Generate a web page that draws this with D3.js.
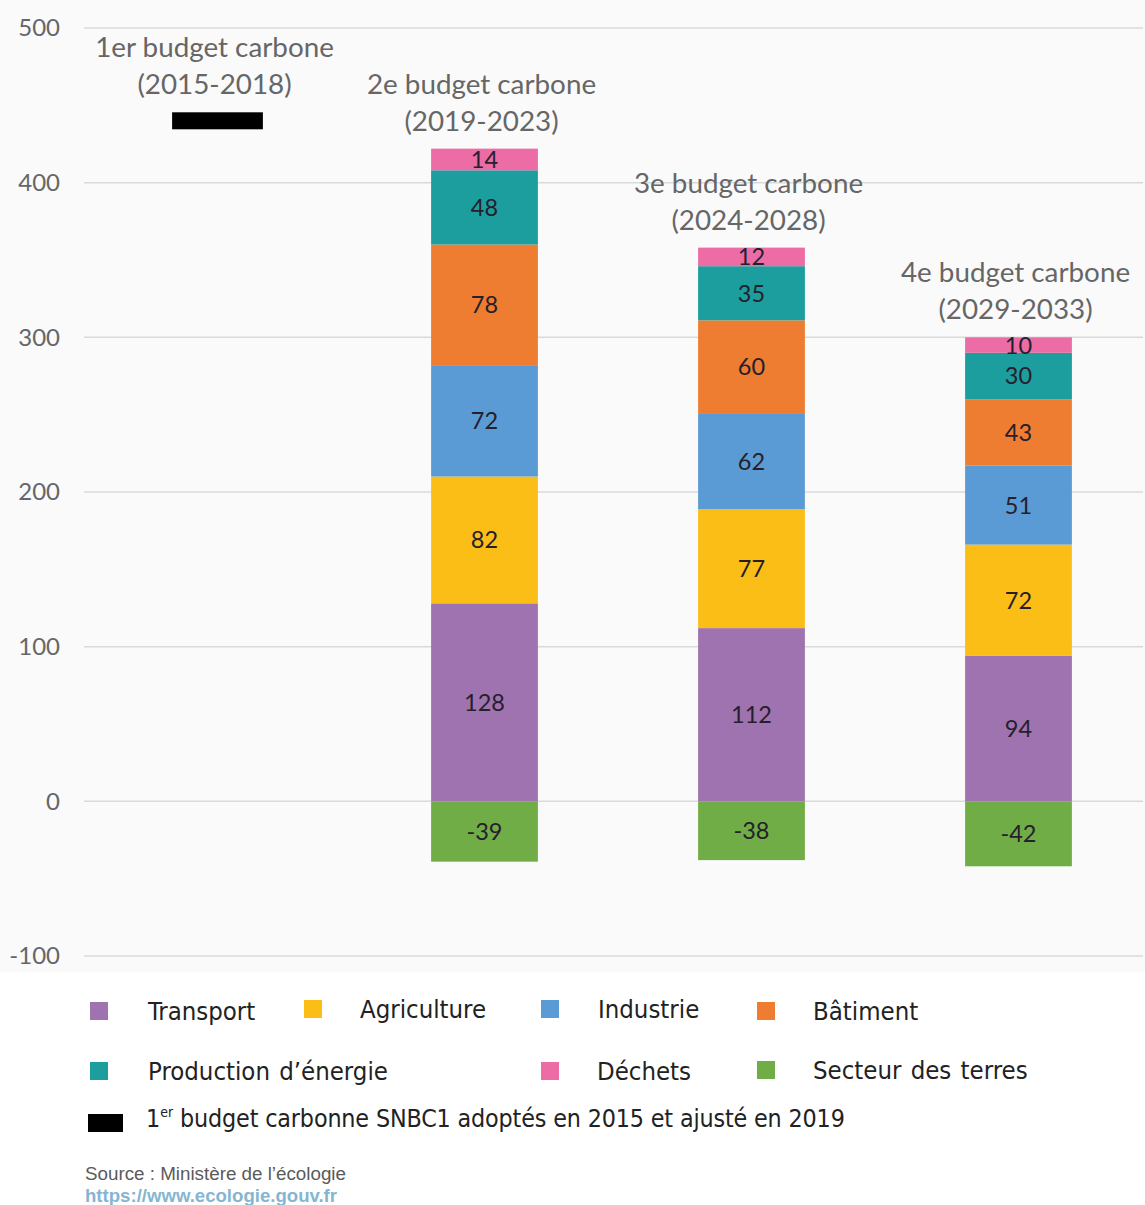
<!DOCTYPE html>
<html>
<head>
<meta charset="utf-8">
<script src="https://cdn.jsdelivr.net/npm/d3@7"></script>
<style>
  html, body { margin: 0; padding: 0; background: #ffffff; }
  svg { display: block; }
</style>
</head>
<body>
<svg id="chart" width="1145" height="1205"></svg>
<script>
// ---------- Data ----------
const categories = ["B1", "B2", "B3", "B4"];
const titleLine1 = ["1er budget carbone", "2e budget carbone", "3e budget carbone", "4e budget carbone"];
const titleLine2 = ["(2015-2018)", "(2019-2023)", "(2024-2028)", "(2029-2033)"];
const seriesNames = ["Transport", "Agriculture", "Industrie", "Bâtiment", "Production d’énergie", "Déchets", "Secteur des terres"];
const seriesColors = ["#9F72B0", "#FBBE17", "#5B9BD5", "#EE7D31", "#1C9E9F", "#EC6CA6", "#70AD47"];
const transport   = [0, 128, 112, 94];
const agriculture = [0, 82, 77, 72];
const industrie   = [0, 72, 62, 51];
const batiment    = [0, 78, 60, 43];
const energie     = [0, 48, 35, 30];
const dechets     = [0, 14, 12, 10];
const terres      = [0, -39, -38, -42];
const firstBudget = 440; // 1er budget carbone (marker)
const yTicks = [500, 400, 300, 200, 100, 0, -100];

const seriesValues = [transport, agriculture, industrie, batiment, energie, dechets, terres];
const rows = categories.map((c, i) => {
  const r = { cat: c };
  seriesNames.forEach((s, k) => r[s] = seriesValues[k][i]);
  return r;
});

// ---------- Layout ----------
const svg = d3.select("#chart");
const W = 1145, H = 1205;
const plotLeft = 84, plotRight = 1143;

svg.append("rect").attr("x", 0).attr("y", 0).attr("width", W).attr("height", 972).attr("fill", "#fafafa");

const y = d3.scaleLinear().domain([-100, 500]).range([956, 28]);
const x = d3.scaleBand().domain(categories).range([plotLeft, 1152]).paddingInner(0.6).paddingOuter(0.3);

// gridlines
svg.append("g").selectAll("line").data(yTicks).join("line")
  .attr("x1", plotLeft).attr("x2", plotRight)
  .attr("y1", d => y(d)).attr("y2", d => y(d))
  .attr("stroke", "#dadada").attr("stroke-width", 1.5);

// y axis labels
const yAxis = d3.axisLeft(y).tickValues(yTicks).tickSize(0).tickPadding(0)
  .tickFormat(d => String(d));
const ga = svg.append("g").attr("transform", "translate(60,0)").call(yAxis);
ga.select(".domain").remove();
ga.selectAll("text")
  .attr("font-family", "Lato, 'Open Sans', sans-serif")
  .attr("font-size", 24).attr("fill", "#666");

// stacks
const stack = d3.stack().keys(seriesNames).offset(d3.stackOffsetDiverging);
const stacked = stack(rows);
const color = d3.scaleOrdinal().domain(seriesNames).range(seriesColors);

const layers = svg.append("g").selectAll("g").data(stacked).join("g")
  .attr("fill", d => color(d.key));
layers.selectAll("rect").data(d => d.filter(p => p.data.cat !== "B1")).join("rect")
  .attr("x", d => x(d.data.cat))
  .attr("width", x.bandwidth())
  .attr("y", d => y(Math.max(d[0], d[1])))
  .attr("height", d => Math.abs(y(d[0]) - y(d[1])));

// labels in segments
const labG = svg.append("g");
stacked.forEach(layer => {
  layer.filter(p => p.data.cat !== "B1").forEach(p => {
    const v = p.data[layer.key];
    labG.append("text")
      .attr("x", x(p.data.cat) + x.bandwidth() / 2)
      .attr("y", y((p[0] + p[1]) / 2))
      .attr("dy", "0.36em")
      .attr("text-anchor", "middle")
      .attr("font-family", "Lato, 'Open Sans', sans-serif")
      .attr("font-size", 23.5)
      .attr("fill", "#25202c")
      .text(String(v));
  });
});

// first budget marker
const mW = x.bandwidth() * 0.85;
svg.append("rect")
  .attr("x", x("B1") + (x.bandwidth() - mW) / 2)
  .attr("width", mW)
  .attr("y", y(firstBudget) - 8.5)
  .attr("height", 17)
  .attr("fill", "#000");

// titles
const tops = categories.map((c, i) => i === 0 ? y(firstBudget) - 8.5 : y(d3.sum(seriesValues.slice(0, 6), s => s[i])));
categories.forEach((c, i) => {
  const cx = x(c) + x.bandwidth() / 2 - 3;
  const base = tops[i] - 18;
  const t = svg.append("text")
    .attr("text-anchor", "middle")
    .attr("font-family", "Lato, 'Open Sans', sans-serif")
    .attr("font-size", 27.8).attr("fill", "#666");
  t.append("tspan").attr("x", cx).attr("y", base - 37).text(titleLine1[i]);
  t.append("tspan").attr("x", cx).attr("y", base).text(titleLine2[i]);
});

// legend
const legendFont = "'DejaVu Sans Condensed', 'DejaVu Sans', sans-serif";
const legendItems = [
  { i: 0, sx: 90, tx: 148, y: 1020 },
  { i: 1, sx: 304, tx: 360, y: 1018 },
  { i: 2, sx: 541, tx: 598, y: 1018 },
  { i: 3, sx: 757, tx: 813, y: 1020 },
  { i: 4, sx: 90, tx: 148, y: 1080 },
  { i: 5, sx: 541, tx: 597, y: 1080 },
  { i: 6, sx: 757, tx: 813, y: 1079 }
];
const lg = svg.append("g");
legendItems.forEach(it => {
  lg.append("rect").attr("x", it.sx).attr("y", it.y - 18).attr("width", 18).attr("height", 18)
    .attr("fill", seriesColors[it.i]);
  lg.append("text").attr("x", it.tx).attr("y", it.y)
    .attr("font-family", legendFont).attr("font-stretch", "condensed")
    .attr("font-size", 25.5).attr("fill", "#222")
    .attr("word-spacing", 2)
    .text(seriesNames[it.i]);
});
lg.append("rect").attr("x", 88).attr("y", 1114).attr("width", 35).attr("height", 18).attr("fill", "#000");
const lt = lg.append("text").attr("x", 146).attr("y", 1127)
  .attr("font-family", legendFont).attr("font-stretch", "condensed")
  .attr("font-size", 24.8).attr("fill", "#222");
lt.append("tspan").text("1");
lt.append("tspan").attr("font-size", 14).attr("dy", -10).text("er");
lt.append("tspan").attr("dy", 10).attr("letter-spacing", -0.15).text(" budget carbonne SNBC1 adoptés en 2015 et ajusté en 2019");

// source
svg.append("text").attr("x", 85).attr("y", 1180)
  .attr("font-family", "'Liberation Sans', Arial, sans-serif")
  .attr("font-size", 18.8).attr("fill", "#5a5a5a")
  .text("Source : Ministère de l’écologie");
svg.append("text").attr("x", 85).attr("y", 1202)
  .attr("font-family", "'Liberation Sans', Arial, sans-serif")
  .attr("font-size", 18.6).attr("font-weight", "bold").attr("fill", "#86B5D2")
  .text("https://www.ecologie.gouv.fr");
</script>
</body>
</html>
